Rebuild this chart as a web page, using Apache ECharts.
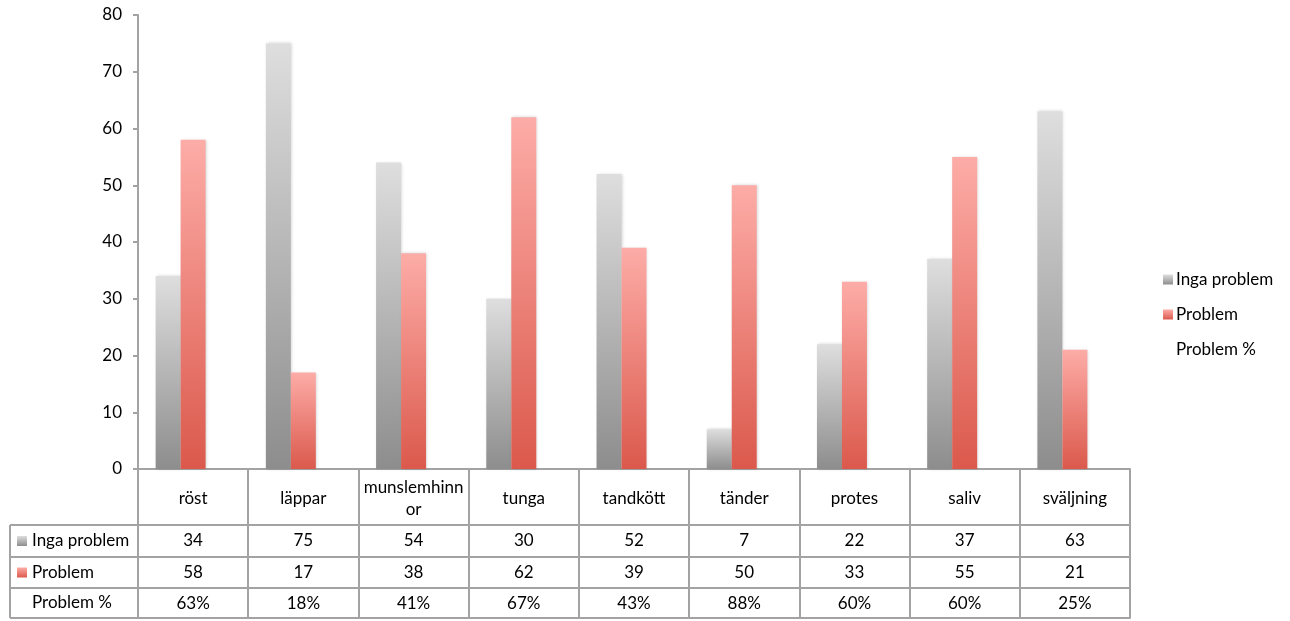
<!DOCTYPE html>
<html>
<head>
<meta charset="utf-8">
<script src="https://cdn.jsdelivr.net/npm/echarts@6/dist/echarts.min.js"></script>
<style>
html,body{margin:0;padding:0;background:#fff;}
#chart{width:1290px;height:621px;}
</style>
</head>
<body>
<div id="chart"></div>
<script>
// ---- data ----
const categories = ['röst','läppar','munslemhinnor','tunga','tandkött','tänder','protes','saliv','sväljning'];
const ingaProblem = [34, 75, 54, 30, 52, 7, 22, 37, 63];
const problem = [58, 17, 38, 62, 39, 50, 33, 55, 21];
const problemPct = [63, 18, 41, 67, 43, 88, 60, 60, 25];
const seriesNames = ['Inga problem', 'Problem', 'Problem %'];
const yTicks = {min: 0, max: 80, interval: 10};

// ---- layout / style ----
const FONT = 'Lato, "Open Sans", sans-serif';
const FS = 17;
const LINE = '#a3a3a3';
const G = {left: 138, right: 160, top: 15, bottom: 152};
const H = 621;
const rowOffsets = [56, 88, 119, 149]; // table row lines below the axis line
const tableLeft = 10;

const grayGrad = new echarts.graphic.LinearGradient(0, 0, 0, 1, [
  {offset: 0, color: '#dedede'}, {offset: 1, color: '#8d8d8d'}
]);
const redGrad = new echarts.graphic.LinearGradient(0, 0, 0, 1, [
  {offset: 0, color: '#fdaca7'}, {offset: 1, color: '#db594c'}
]);

function wrap(v) { return v.length > 11 ? v.slice(0, 11) + '\n' + v.slice(11) : v; }

function rowAxis(offset, tickLen, values, showLabel) {
  return {
    type: 'category', data: categories, position: 'bottom', offset: offset,
    axisLine: {show: true, lineStyle: {color: LINE, width: 2}},
    axisTick: {show: tickLen > 0, interval: 0, length: tickLen, lineStyle: {color: LINE, width: 2}},
    axisLabel: {
      show: showLabel, interval: 0, margin: 16, verticalAlign: 'middle',
      fontFamily: FONT, fontSize: FS, color: '#000',
      formatter: function (v, i) { return values ? String(values[i]) : ''; }
    }
  };
}

const chart = echarts.init(document.getElementById('chart'));
const baseY = H - G.bottom;
const rowLines = rowOffsets.map(o => baseY + o);
const rowCenters = [0,1,2].map(i => (rowLines[i] + rowLines[i+1]) / 2);

const graphic = [];
rowLines.forEach(y => graphic.push({
  type: 'line', shape: {x1: tableLeft, y1: y, x2: G.left, y2: y},
  style: {stroke: LINE, lineWidth: 2}, silent: true
}));
graphic.push({type: 'line', shape: {x1: tableLeft, y1: rowLines[0], x2: tableLeft, y2: rowLines[3]},
  style: {stroke: LINE, lineWidth: 2}, silent: true});
const rowIcons = [grayGrad, redGrad, null];
seriesNames.forEach((n, i) => {
  if (rowIcons[i]) graphic.push({type: 'rect', shape: {x: 17, y: rowCenters[i] - 5, width: 10, height: 10},
    style: {fill: rowIcons[i]}, silent: true});
  graphic.push({type: 'text', x: 32, y: rowCenters[i],
    style: {text: n, font: FS + 'px ' + FONT, fill: '#000', textVerticalAlign: 'middle', textAlign: 'left'}, silent: true});
});

const shadow = {shadowBlur: 3, shadowColor: 'rgba(0,0,0,0.18)', shadowOffsetX: 1, shadowOffsetY: 0};

chart.setOption({
  animation: false,
  backgroundColor: '#fff',
  grid: {left: G.left, right: G.right, top: G.top, bottom: G.bottom, containLabel: false},
  legend: {
    orient: 'vertical', left: 1163, top: 271, padding: 0, itemWidth: 10, itemHeight: 10, itemGap: 18,
    icon: 'rect', textStyle: {fontFamily: FONT, fontSize: FS, color: '#000', padding: [0,0,0,-2]},
    data: seriesNames
  },
  xAxis: [
    {
      type: 'category', data: categories, position: 'bottom',
      axisLine: {show: true, lineStyle: {color: LINE, width: 2}},
      axisTick: {show: true, interval: 0, length: rowOffsets[0], lineStyle: {color: LINE, width: 2}},
      axisLabel: {interval: 0, margin: 30, verticalAlign: 'middle', fontFamily: FONT, fontSize: FS,
        color: '#000', lineHeight: 22, formatter: wrap}
    },
    rowAxis(rowOffsets[0], rowOffsets[1] - rowOffsets[0], ingaProblem, true),
    rowAxis(rowOffsets[1], rowOffsets[2] - rowOffsets[1], problem, true),
    rowAxis(rowOffsets[2], rowOffsets[3] - rowOffsets[2], problemPct.map(v => v + '%'), true),
    rowAxis(rowOffsets[3], 0, null, false)
  ],
  yAxis: {
    type: 'value', min: yTicks.min, max: yTicks.max, interval: yTicks.interval,
    axisLine: {show: true, lineStyle: {color: LINE, width: 2}},
    axisTick: {show: true, length: 5, lineStyle: {color: LINE, width: 2}},
    splitLine: {show: false},
    axisLabel: {margin: 16, fontFamily: FONT, fontSize: FS, color: '#000'}
  },
  series: [
    {name: seriesNames[0], type: 'bar', data: ingaProblem, barGap: '0%', barCategoryGap: '32%',
      itemStyle: Object.assign({color: grayGrad}, shadow)},
    {name: seriesNames[1], type: 'bar', data: problem, barGap: '0%', barCategoryGap: '32%',
      itemStyle: Object.assign({color: redGrad}, shadow)},
    {name: seriesNames[2], type: 'bar', data: problemPct.map(v => v / 100), barGap: '0%', barCategoryGap: '32%',
      itemStyle: {color: 'rgba(255,255,255,0)'}}
  ],
  graphic: graphic
});
</script>
</body>
</html>
